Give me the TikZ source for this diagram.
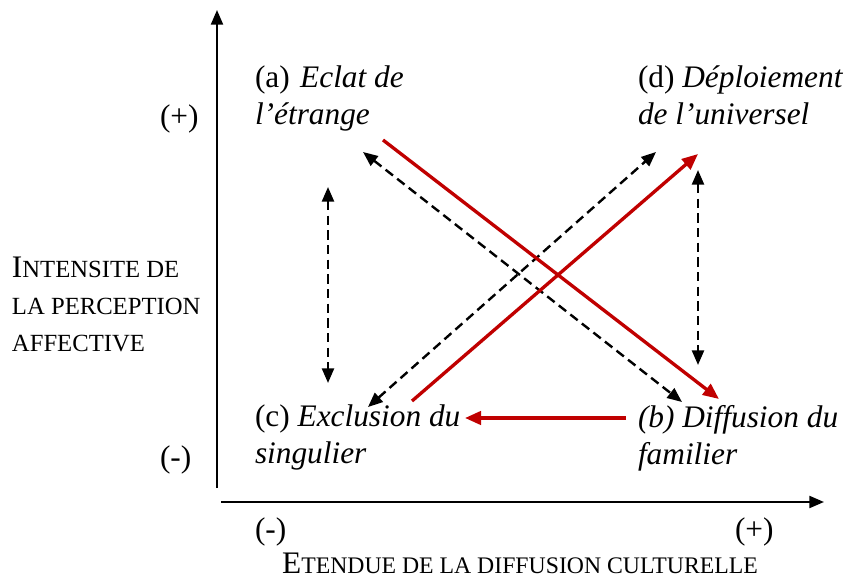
\documentclass[tikz,border=0pt]{standalone}
\usepackage{fontspec}
\setmainfont{Liberation Serif}
\usetikzlibrary{arrows.meta}
\definecolor{darkred}{RGB}{192,0,0}
\newcommand{\bigf}{\fontsize{23.5}{27.75}\selectfont}
\newcommand{\smallf}{\fontsize{18.5}{27.75}\selectfont}
\newcommand{\smallerf}{\fontsize{17.8}{27.75}\selectfont}
\newcommand{\myfsc}[2]{{\bigf #1}{\smallf #2}}
\begin{document}
\begin{tikzpicture}[x=0.75pt,y=-0.75pt,
  txt/.style={inner sep=0pt, outer sep=0pt, font=\bigf, align=left, anchor=north west},
  axis/.style={line width=1.6pt, -{Triangle[length=11pt,width=9pt]}},
  redarr/.style={draw=darkred, line width=2.5pt, -{Triangle[length=12pt,width=10pt]}, fill=darkred},
  dasharr/.style={line width=1.8pt, dash pattern=on 7pt off 4pt, {Triangle[length=11pt,width=9pt]}-{Triangle[length=11pt,width=9pt]}}
]
\useasboundingbox (0,0) rectangle (849,580);
% axes
\coordinate (yb) at (217,488);
\coordinate (yt) at (217,10);
\coordinate (xl) at (221,502);
\coordinate (xr) at (824,502);
\draw[axis] (yb) -- (yt);
\draw[axis] (xl) -- (xr);
% axis labels
\node[txt, anchor=base west] (yp) at (160,127) {(+)};
\node[txt, anchor=base west] (ym) at (160,467) {(-)};
\node[txt, anchor=base west] (xm) at (255,539) {(-)};
\node[txt, anchor=base west] (xp) at (735,539) {(+)};
\node[txt, anchor=base] (xlab) at (520,573) {{\bigf E}{\smallerf TENDUE DE LA DIFFUSION CULTURELLE}};
\node[txt, anchor=base west] (ylab1) at (12,278) {\myfsc{I}{NTENSITE DE}};
\node[txt, anchor=base west] (ylab2) at (12,315) {\smallf LA PERCEPTION};
\node[txt, anchor=base west] (ylab3) at (12,352) {\smallf AFFECTIVE};
% quadrant labels
\node[txt] (a) at (255,66) {(a)\,\,\textit{Eclat de}\\\textit{l'étrange}};
\node[txt] (d) at (638,66) {(d) \textit{Déploiement}\\\textit{de l'universel}};
\node[txt] (c) at (255,405) {(c) \textit{Exclusion du}\\\textit{singulier}};
\node[txt] (b) at (638,405) {\textit{(b) Diffusion du}\\\textit{familier}};
% arrow ends
\coordinate (ab1) at (383,140);
\coordinate (ab2) at (719,399);
\coordinate (da1) at (363,152);
\coordinate (da2) at (682,402);
\coordinate (cd1) at (412,401);
\coordinate (cd2) at (698,154);
\coordinate (dc1) at (368,407);
\coordinate (dc2) at (656,152);
\coordinate (bc1) at (626,418);
\coordinate (bc2) at (465,418);
\coordinate (vl1) at (328,187);
\coordinate (vl2) at (328,383);
\coordinate (vr1) at (698,170);
\coordinate (vr2) at (698,365);
% dashed
\draw[dasharr] (da1) -- (da2);
\draw[dasharr] (dc1) -- (dc2);
\draw[dasharr] (vl1) -- (vl2);
\draw[dasharr] (vr1) -- (vr2);
% red
\draw[redarr] (ab1) -- (ab2);
\draw[redarr] (cd1) -- (cd2);
\draw[redarr] (bc1) -- (bc2);
\end{tikzpicture}
\end{document}
